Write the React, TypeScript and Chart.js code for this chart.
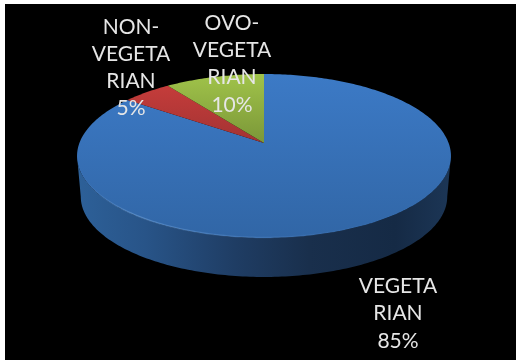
import React, { useEffect, useRef } from "react";
import { Chart, registerables } from "chart.js";

Chart.register(...registerables);

// Survey shares by diet
const categories = ["VEGETARIAN", "NON-VEGETARIAN", "OVO-VEGETARIAN"];
const shares = [85, 5, 10];
const labelLines = [
  ["VEGETA", "RIAN"],
  ["NON-", "VEGETA", "RIAN"],
  ["OVO-", "VEGETA", "RIAN"],
];

// Layout of the tilted disc
const WIDTH = 516;
const HEIGHT = 360;
const PANEL = { x: 5, y: 4 };
const DISC = { cx: 264, apexY: 143, a: 184.6, b: 79.9, k: 0.1585 };
const WALL = { scale: 0.98, apexY: 183.9 };
const LABEL_ANCHORS = [
  { x: 398, y: 286, step: 27.5 },
  { x: 131, y: 27, step: 27 },
  { x: 232, y: 23, step: 27.3 },
];

const FACE_STOPS = [
  ["#3c7ac6", "#3166a6"],
  ["#cc3e3c", "#a23333"],
  ["#a0c34a", "#7b9738"],
];

// Perspective projection of a point on the disc rim; theta runs clockwise from the back.
function rimPoint(theta: number, scale = 1, apexY = DISC.apexY) {
  const w = 1 + DISC.k * Math.cos(theta);
  return {
    x: DISC.cx + (scale * DISC.a * Math.sin(theta)) / w,
    y: apexY - (scale * DISC.b * Math.cos(theta)) / w,
  };
}

function traceRim(ctx: CanvasRenderingContext2D, from: number, to: number, scale = 1, apexY = DISC.apexY, move = false) {
  const steps = Math.max(8, Math.ceil(Math.abs(to - from) * 60));
  for (let i = 0; i <= steps; i++) {
    const p = rimPoint(from + ((to - from) * i) / steps, scale, apexY);
    if (i === 0 && move) ctx.moveTo(p.x, p.y);
    else ctx.lineTo(p.x, p.y);
  }
}

const tiltedPie = {
  id: "tiltedPie",
  beforeDraw(chart: Chart) {
    const { ctx } = chart;
    ctx.save();
    ctx.fillStyle = "#ffffff";
    ctx.fillRect(0, 0, WIDTH, HEIGHT);
    ctx.fillStyle = "#000000";
    ctx.fillRect(PANEL.x, PANEL.y, WIDTH - PANEL.x, HEIGHT - PANEL.y);
    ctx.restore();
  },
  beforeDatasetsDraw(chart: Chart) {
    const { ctx } = chart;
    const arcs = chart.getDatasetMeta(0).data as any[];
    const toTheta = (angle: number) => angle + Math.PI / 2;
    const wallFrom = Math.acos(-DISC.k);
    const wallTo = 2 * Math.PI - wallFrom;

    // Side wall of the disc
    ctx.save();
    const wall = ctx.createLinearGradient(78, 0, 451, 0);
    wall.addColorStop(0, "#2d6098");
    wall.addColorStop(0.18, "#285488");
    wall.addColorStop(0.42, "#1f3d64");
    wall.addColorStop(0.62, "#192f4c");
    wall.addColorStop(0.85, "#152a45");
    wall.addColorStop(1, "#1c3656");
    ctx.fillStyle = wall;
    ctx.beginPath();
    traceRim(ctx, wallFrom, wallTo, 1, DISC.apexY, true);
    traceRim(ctx, wallTo, wallFrom, WALL.scale, WALL.apexY);
    ctx.closePath();
    ctx.fill();

    // Top faces, one per slice
    arcs.forEach((arc, i) => {
      const start = toTheta(arc.startAngle);
      const end = toTheta(arc.endAngle);
      const grad = ctx.createLinearGradient(0, 74, 0, i === 0 ? 238 : DISC.apexY);
      grad.addColorStop(0, FACE_STOPS[i][0]);
      grad.addColorStop(1, FACE_STOPS[i][1]);
      ctx.fillStyle = grad;
      ctx.beginPath();
      ctx.moveTo(DISC.cx, DISC.apexY);
      traceRim(ctx, start, end);
      ctx.closePath();
      ctx.fill();
    });

    // Bevel highlight along the front edge
    const bevel = ctx.createLinearGradient(78, 0, 451, 0);
    bevel.addColorStop(0, "rgba(110,160,220,0)");
    bevel.addColorStop(0.15, "rgba(115,165,220,0.5)");
    bevel.addColorStop(0.45, "rgba(110,160,220,0.25)");
    bevel.addColorStop(0.75, "rgba(90,140,200,0.06)");
    bevel.addColorStop(1, "rgba(90,140,200,0)");
    ctx.strokeStyle = bevel;
    ctx.lineWidth = 1.5;
    ctx.beginPath();
    traceRim(ctx, wallFrom, wallTo, 1, DISC.apexY - 0.5, true);
    ctx.stroke();
    ctx.restore();

    // The slices are painted above, in perspective
    return false;
  },
  afterDraw(chart: Chart) {
    const { ctx } = chart;
    ctx.save();
    ctx.fillStyle = "#e6e6e6";
    ctx.font = '21px Lato, "Open Sans", sans-serif';
    ctx.textAlign = "center";
    ctx.textBaseline = "middle";
    labelLines.forEach((lines, i) => {
      const anchor = LABEL_ANCHORS[i];
      [...lines, `${shares[i]}%`].forEach((line, row) => {
        ctx.fillText(line, anchor.x, anchor.y + row * anchor.step);
      });
    });
    ctx.restore();
  },
};

export default function App() {
  const canvasRef = useRef<HTMLCanvasElement>(null);

  useEffect(() => {
    const chart = new Chart(canvasRef.current!, {
      type: "pie",
      data: {
        labels: categories,
        datasets: [{ data: shares, borderWidth: 0 }],
      },
      options: {
        responsive: false,
        animation: false,
        plugins: { legend: { display: false }, tooltip: { enabled: false } },
      },
      plugins: [tiltedPie],
    });
    return () => chart.destroy();
  }, []);

  return (
    <div style={{ position: "fixed", left: 0, top: 0, width: WIDTH, height: HEIGHT }}>
      <canvas ref={canvasRef} width={WIDTH} height={HEIGHT} style={{ display: "block" }} />
    </div>
  );
}
